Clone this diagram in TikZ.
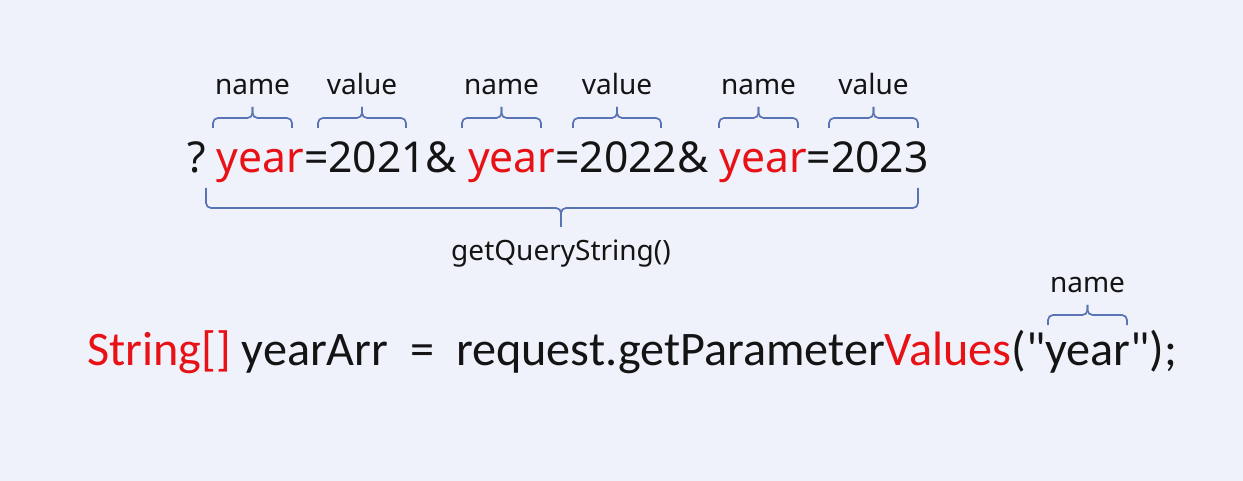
\documentclass[tikz,border=0pt]{standalone}
\usepackage{fontspec}
\setmainfont{Noto Sans}
\newfontfamily\calib{Carlito}
\definecolor{bg}{RGB}{240,242,251}
\definecolor{kred}{RGB}{232,18,22}
\definecolor{brc}{RGB}{88,116,180}
\definecolor{ink}{RGB}{20,20,20}
\newcommand\upbrace[5]{%
  \draw[brace] (#1,#3) |- ({(#1+#2)/2},#4) -- ({(#1+#2)/2},#5);
  \draw[brace] (#2,#3) |- ({(#1+#2)/2},#4) -- ({(#1+#2)/2},#5);}
\begin{document}
\begin{tikzpicture}[x=1pt,y=-1pt,
  brace/.style={draw=brc, line width=1.7pt, rounded corners=5pt},
  lbl/.style={font=\fontsize{28}{30}\selectfont, text=ink, inner sep=0, anchor=base},
  code/.style={inner sep=0, anchor=base west, text=ink}]
\fill[bg] (0,0) rectangle (1243,481);
% line 1
\node[code, font=\fontsize{42.6}{46}\selectfont] (t1) at (187,173)
  {?\ \textcolor{kred}{year}=2021\&\ \textcolor{kred}{year}=2022\&\ \textcolor{kred}{year}=2023};
% top braces
\upbrace{213}{292}{128}{118}{107}
\upbrace{318}{406}{128}{118}{107}
\upbrace{462}{541}{128}{118}{107}
\upbrace{573}{661}{128}{118}{107}
\upbrace{719}{798}{128}{118}{107}
\upbrace{829}{918}{128}{118}{107}
\node[lbl] (l1) at (252.5,95) {name};
\node[lbl] (l2) at (362,95) {value};
\node[lbl] (l3) at (501.5,95) {name};
\node[lbl] (l4) at (617,95) {value};
\node[lbl] (l5) at (758.5,95) {name};
\node[lbl] (l6) at (873.5,95) {value};
% bottom brace
\draw[brace] (206,188) |- (561,208) -- (561,227);
\draw[brace] (918,188) |- (561,208) -- (561,227);
\node[lbl] (lq) at (561,261) {getQueryString()};
% line 2
\node[code, font=\calib\fontsize{48.2}{52}\selectfont] (t2) at (87,365)
  {\textcolor{kred}{String[]} yearArr\ \ =\ \ request.getParameter\textcolor{kred}{Values}("year");};
\upbrace{1048}{1127}{325}{315}{305}
\node[lbl] (l7) at (1087.5,293) {name};
\end{tikzpicture}
\end{document}
